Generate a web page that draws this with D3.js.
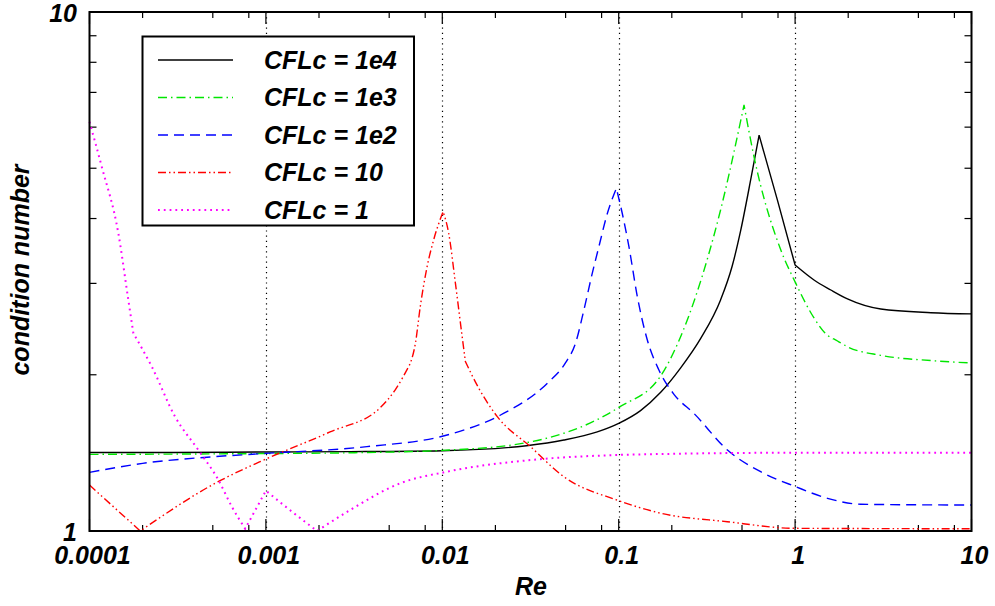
<!DOCTYPE html>
<html>
<head>
<meta charset="utf-8">
<script src="https://cdn.jsdelivr.net/npm/d3@7"></script>
<style>
  html, body { margin: 0; padding: 0; background: #fff; }
  svg { display: block; }
  text { font-family: "Liberation Sans", Arial, Helvetica, sans-serif; font-weight: bold; font-style: italic; fill: #000; }
</style>
</head>
<body>
<svg id="chart" width="995" height="606"></svg>
<script>
// ---------------- DATA ----------------
const xTickValues = [1e-4, 1e-3, 1e-2, 1e-1, 1, 10];
const xTickLabels = ["0.0001", "0.001", "0.01", "0.1", "1", "10"];
const yTickValues = [1, 10];
const yTickLabels = ["1", "10"];
const seriesNames = ["CFLc = 1e4", "CFLc = 1e3", "CFLc = 1e2", "CFLc = 10", "CFLc = 1"];

const reCFL1e4 = [1e-4, 3e-4, 1e-3, 3e-3, 0.01, 0.03, 0.0489, 0.0756, 0.1, 0.133, 0.173, 0.224, 0.2917, 0.378, 0.44, 0.492, 0.564, 0.625, 0.794, 1.0, 1.28, 1.594, 1.98, 3.06, 5.89, 10];
const cnCFL1e4 = [1.417, 1.417, 1.42, 1.422, 1.428, 1.46, 1.497, 1.552, 1.612, 1.706, 1.85, 2.06, 2.35, 2.787, 3.24, 3.80, 4.81, 5.79, 4.34, 3.254, 3.045, 2.913, 2.80, 2.677, 2.634, 2.62];
const kinksCFL1e4 = [1.0];

const reCFL1e3 = [1e-4, 1e-3, 3e-3, 0.01, 0.03, 0.1, 0.173, 0.2244, 0.273, 0.378, 0.5135, 0.585, 0.83, 1.0, 1.28, 1.477, 1.74, 1.98, 3.06, 5.89, 10];
const cnCFL1e3 = [1.405, 1.41, 1.415, 1.43, 1.48, 1.73, 1.99, 2.368, 2.83, 4.155, 6.62, 5.26, 3.478, 3.02, 2.573, 2.407, 2.323, 2.265, 2.18, 2.13, 2.107];
const kinksCFL1e3 = [];

const reCFL1e2 = [1e-4, 2e-4, 5e-4, 1e-3, 0.00374, 0.01065, 0.0214, 0.0393, 0.05, 0.0569, 0.0635, 0.0708, 0.0772, 0.0862, 0.097, 0.1048, 0.1143, 0.1275, 0.1453, 0.169, 0.2057, 0.267, 0.4134, 0.638, 1.01, 1.527, 2.36, 10];
const cnCFL1e2 = [1.297, 1.35, 1.39, 1.411, 1.454, 1.531, 1.673, 1.925, 2.11, 2.30, 2.666, 3.136, 3.53, 4.09, 4.575, 4.09, 3.53, 2.83, 2.333, 2.043, 1.834, 1.685, 1.432, 1.301, 1.217, 1.156, 1.126, 1.122];
const kinksCFL1e2 = [];

const reCFL10 = [1e-4, 1.94e-4, 5.16e-4, 1e-3, 0.00231, 0.00443, 0.0054, 0.00659, 0.00704, 0.0075, 0.0082, 0.00893, 0.0101, 0.01087, 0.01187, 0.01296, 0.01352, 0.0161, 0.0205, 0.0316, 0.0489, 0.098, 0.173, 0.413, 1.0, 10];
const cnCFL10 = [1.226, 1.0, 1.236, 1.376, 1.552, 1.726, 1.869, 2.104, 2.30, 2.705, 3.23, 3.637, 4.124, 3.747, 3.0, 2.368, 2.12, 1.884, 1.661, 1.454, 1.272, 1.147, 1.082, 1.042, 1.012, 1.01];
const kinksCFL10 = [0.00659, 0.01352];

const reCFL1 = [1e-4, 1.173e-4, 1.457e-4, 1.66e-4, 1.773e-4, 2.255e-4, 3.055e-4, 4.14e-4, 5.38e-4, 6.41e-4, 7.63e-4, 1e-3, 1.26e-3, 1.95e-3, 3.01e-3, 5.78e-3, 0.01065, 0.0316, 0.098, 0.173, 1, 10];
const cnCFL1 = [6.145, 5.035, 3.747, 2.787, 2.404, 2.073, 1.661, 1.432, 1.254, 1.114, 1.01, 1.196, 1.122, 1.0, 1.098, 1.236, 1.301, 1.37, 1.401, 1.407, 1.415, 1.415];
const kinksCFL1 = [1.773e-4];

// ---------------- LAYOUT ----------------
const L = 89.5, R = 971.5, T = 12, B = 531;
const svg = d3.select("#chart");
const x = d3.scaleLog().domain([1e-4, 10]).range([L, R]);
const y = d3.scaleLog().domain([1, 10]).range([B, T]);

const styles = [
  { color: "#000000", dash: null, w: 1.4 },
  { color: "#00e600", dash: "9,4,1.5,4", w: 1.4 },
  { color: "#0000ff", dash: "10,6", w: 1.4 },
  { color: "#ff0000", dash: "8,3,1.5,3,1.5,3", w: 1.4 },
  { color: "#ff00ff", dash: "1.8,4", w: 2 }
];
const series = [
  [reCFL1e4, cnCFL1e4, kinksCFL1e4], [reCFL1e3, cnCFL1e3, kinksCFL1e3], [reCFL1e2, cnCFL1e2, kinksCFL1e2],
  [reCFL10, cnCFL10, kinksCFL10], [reCFL1, cnCFL1, kinksCFL1]
];

// grid lines (vertical, dotted) at inner decades
const gridVals = xTickValues.filter(v => v > 1e-4 && v < 10);
svg.append("g").selectAll("line").data(gridVals).join("line")
  .attr("x1", d => Math.round(x(d)) + 0.5).attr("x2", d => Math.round(x(d)) + 0.5)
  .attr("y1", T).attr("y2", B)
  .attr("stroke", "#000").attr("stroke-width", 1.2).attr("stroke-dasharray", "1.2,4");

// minor / major ticks
const minorX = [];
for (let e = -4; e < 1; e++) for (const m of [2, 5, 8]) minorX.push(m * Math.pow(10, e));
const tg = svg.append("g").attr("stroke", "#000").attr("stroke-width", 1.2);
xTickValues.forEach(v => {
  tg.append("line").attr("x1", x(v)).attr("x2", x(v)).attr("y1", B).attr("y2", B - 12);
  tg.append("line").attr("x1", x(v)).attr("x2", x(v)).attr("y1", T).attr("y2", T + 12);
});
minorX.forEach(v => {
  tg.append("line").attr("x1", x(v)).attr("x2", x(v)).attr("y1", B).attr("y2", B - 6);
  tg.append("line").attr("x1", x(v)).attr("x2", x(v)).attr("y1", T).attr("y2", T + 6);
});
d3.range(2, 10).forEach(v => {
  tg.append("line").attr("x1", L).attr("x2", L + 7).attr("y1", y(v)).attr("y2", y(v));
  tg.append("line").attr("x1", R).attr("x2", R - 7).attr("y1", y(v)).attr("y2", y(v));
});

// curves: smooth (monotone) between sharp corners (extrema and listed kinks)
const segLine = d3.line().x(d => x(d[0])).y(d => y(d[1])).curve(d3.curveMonotoneX);
series.forEach((s, i) => {
  const re = s[0], cn = s[1], kinks = s[2];
  const pts = re.map((r, k) => [r, cn[k]]);
  const breaks = [0];
  for (let k = 1; k < pts.length - 1; k++) {
    const ext = (cn[k] - cn[k - 1]) * (cn[k + 1] - cn[k]) < 0;
    if (ext || kinks.includes(re[k])) breaks.push(k);
  }
  breaks.push(pts.length - 1);
  let d = "";
  for (let b = 0; b < breaks.length - 1; b++) {
    const seg = pts.slice(breaks[b], breaks[b + 1] + 1);
    let sd = segLine(seg);
    if (b > 0) sd = "L" + sd.slice(1);
    d += sd;
  }
  svg.append("path")
    .attr("d", d)
    .attr("fill", "none")
    .attr("stroke", styles[i].color)
    .attr("stroke-width", styles[i].w)
    .attr("stroke-dasharray", styles[i].dash)
    .attr("stroke-linejoin", "miter");
});

// frame
svg.append("rect").attr("x", L).attr("y", T).attr("width", R - L).attr("height", B - T)
  .attr("fill", "none").attr("stroke", "#000").attr("stroke-width", 2);

// tick labels
svg.append("g").selectAll("text").data(xTickValues).join("text")
  .attr("x", d => x(d) + 3).attr("y", 564)
  .attr("text-anchor", "middle").attr("font-size", 25)
  .text((d, i) => xTickLabels[i]);
svg.append("g").selectAll("text").data(yTickValues).join("text")
  .attr("x", 77).attr("y", d => y(d) + 9.5)
  .attr("text-anchor", "end").attr("font-size", 25)
  .text((d, i) => yTickLabels[i]);

// axis titles
svg.append("text").attr("x", 531).attr("y", 595).attr("text-anchor", "middle")
  .attr("font-size", 25).text("Re");
svg.append("text").attr("transform", "translate(28.5,270) rotate(-90)")
  .attr("text-anchor", "middle").attr("font-size", 25).text("condition number");

// legend
const lg = svg.append("g");
lg.append("rect").attr("x", 142.5).attr("y", 36.5).attr("width", 271.5).attr("height", 189)
  .attr("fill", "#fff").attr("stroke", "#000").attr("stroke-width", 2);
seriesNames.forEach((name, i) => {
  const ry = 60 + i * 37.5;
  lg.append("line").attr("x1", 158).attr("x2", 233).attr("y1", ry).attr("y2", ry)
    .attr("stroke", styles[i].color).attr("stroke-width", styles[i].w)
    .attr("stroke-dasharray", styles[i].dash);
  lg.append("text").attr("x", 264).attr("y", ry + 8.5).attr("font-size", 25).text(name);
});
</script>
</body>
</html>
